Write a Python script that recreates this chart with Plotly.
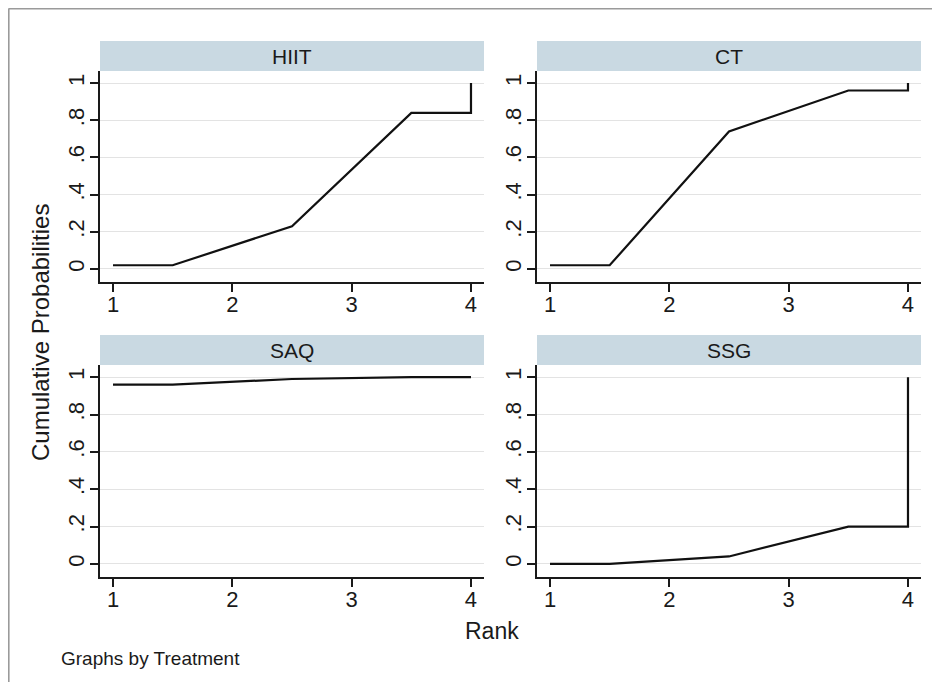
import plotly.graph_objects as go

# ---- data ----
treatments = ["HIIT", "CT", "SAQ", "SSG"]
ranks = [1, 2, 3, 4]
hiit_cum = [0.02, 0.23, 0.84, 1.00]
ct_cum = [0.02, 0.74, 0.96, 1.00]
saq_cum = [0.96, 0.99, 1.00, 1.00]
ssg_cum = [0.00, 0.04, 0.20, 1.00]
series = [hiit_cum, ct_cum, saq_cum, ssg_cum]
y_tickvals = [0, 0.2, 0.4, 0.6, 0.8, 1]
y_ticktext = ["0", ".2", ".4", ".6", ".8", "1"]
x_tickvals = [1, 2, 3, 4]

# page has an 8px body margin; figure fills the rest of the 940x682 window
OFF = 8
W, H = 940 - OFF, 682 - OFF

def px_x(p):
    return (p - OFF) / W

def px_y(p):
    return 1 - (p - OFF) / H

# panel geometry (window pixels)
cols = [(100, 484), (537, 921)]
rows = [(71, 282), (365, 577)]
strips = [(41, 71), (335, 365)]

fig = go.Figure()
shapes = []
annotations = []
FONT = "Liberation Sans, Arial, sans-serif"
INK = "#1a1a1a"

for i, (name, cum) in enumerate(zip(treatments, series)):
    r, c = divmod(i, 2)
    ax = "" if i == 0 else str(i + 1)
    # path through rank midpoints (Stata rankogram style)
    xs = [ranks[0]]
    ys = [cum[0]]
    for k in range(len(ranks) - 1):
        xs.append((ranks[k] + ranks[k + 1]) / 2)
        ys.append(cum[k])
    xs.append(ranks[-1])
    ys.append(cum[-2])
    xs.append(ranks[-1])
    ys.append(cum[-1])
    fig.add_trace(go.Scatter(x=xs, y=ys, mode="lines",
                             line=dict(color="#111111", width=2.2),
                             xaxis="x" + ax, yaxis="y" + ax,
                             showlegend=False, hoverinfo="skip"))
    x0, x1 = cols[c]
    y0, y1 = rows[r]
    fig.layout["xaxis" + ax] = dict(
        domain=[px_x(x0), px_x(x1)], anchor="y" + ax,
        range=[0.891, 4.109], tickvals=x_tickvals,
        ticks="outside", ticklen=8, tickwidth=1.5, tickcolor=INK,
        ticklabelstandoff=-6,
        showline=True, linecolor=INK, linewidth=1.5,
        showgrid=False, zeroline=False,
        tickfont=dict(family=FONT, size=22, color=INK))
    fig.layout["yaxis" + ax] = dict(
        domain=[px_y(y1), px_y(y0)], anchor="x" + ax,
        range=[-0.07, 1.065], tickvals=y_tickvals, ticktext=y_ticktext,
        ticks="outside", ticklen=8, tickwidth=1.5, tickcolor=INK,
        tickangle=-90, ticklabelstandoff=-3,
        showline=True, linecolor=INK, linewidth=1.5,
        showgrid=True, gridcolor="#e3e3e3", gridwidth=1.2, zeroline=False,
        tickfont=dict(family=FONT, size=22, color=INK))
    s0, s1 = strips[r]
    shapes.append(dict(type="rect", xref="paper", yref="paper",
                       x0=px_x(x0), x1=px_x(x1), y0=px_y(s1), y1=px_y(s0),
                       fillcolor="#c9d9e2", line=dict(width=0), layer="below"))
    annotations.append(dict(text=name, xref="paper", yref="paper",
                            x=px_x((x0 + x1) / 2), y=px_y((s0 + s1) / 2),
                            showarrow=False, xanchor="center", yanchor="middle",
                            font=dict(family=FONT, size=21, color=INK)))

# outer frame: only the top and left edges are visible in the picture
fx = 0.6 / W
fy = 1 - 0.6 / H
shapes.append(dict(type="line", xref="paper", yref="paper",
                   x0=fx, x1=1, y0=fy, y1=fy,
                   line=dict(color="#9a9a9a", width=2)))
shapes.append(dict(type="line", xref="paper", yref="paper",
                   x0=fx, x1=fx, y0=0, y1=fy,
                   line=dict(color="#9a9a9a", width=2)))

annotations.append(dict(text="Cumulative Probabilities", xref="paper", yref="paper",
                        x=px_x(40), y=px_y(333), textangle=-90, showarrow=False,
                        xanchor="center", yanchor="middle",
                        font=dict(family=FONT, size=24, color=INK)))
annotations.append(dict(text="Rank", xref="paper", yref="paper",
                        x=px_x(492), y=px_y(631), showarrow=False,
                        xanchor="center", yanchor="middle",
                        font=dict(family=FONT, size=23, color=INK)))
annotations.append(dict(text="Graphs by Treatment", xref="paper", yref="paper",
                        x=px_x(59), y=px_y(658), showarrow=False,
                        xanchor="left", yanchor="middle",
                        font=dict(family=FONT, size=19, color=INK)))

fig.update_layout(width=W, height=H, margin=dict(l=0, r=0, t=0, b=0),
                  paper_bgcolor="white", plot_bgcolor="white",
                  shapes=shapes, annotations=annotations)

fig.write_html("out.html")
